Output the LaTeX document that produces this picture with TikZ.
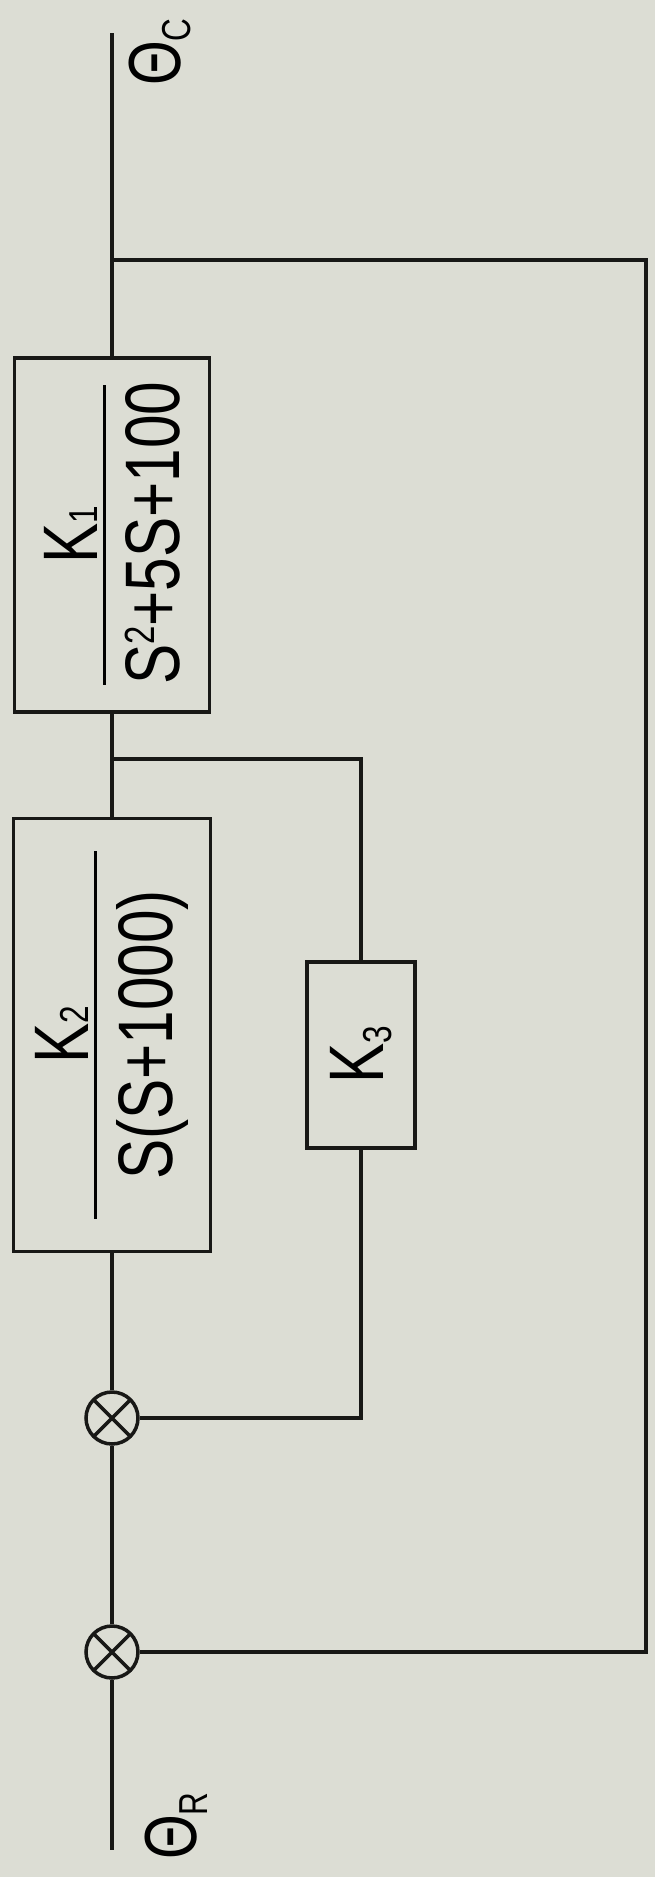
\documentclass[tikz,border=0pt]{standalone}
\usepackage{fontspec}
\setmainfont{Liberation Sans}[FakeStretch=0.78]
\usetikzlibrary{positioning,calc}
\definecolor{paper}{RGB}{220,221,212}
\definecolor{ink}{RGB}{24,24,22}
% small lowered index, as in the hand lettering
\newcommand\lo[2][0pt]{\raisebox{#1}{\fontsize{23}{23}\selectfont #2}}
% transfer function: numerator over a bar over denominator
\newcommand\tf[3]{\vbox{\hbox to #3{\hfil #1\hfil}\kern3pt
  \hrule height 1.8pt\kern11pt\hbox to #3{\hfil #2\hfil}}}

\begin{document}
\begin{tikzpicture}[x=0.02cm,y=-0.02cm,line width=2pt,draw=ink,
  blockbox/.style={draw,rotate=90,inner sep=0pt,line width=2.1pt,
    font=\fontsize{44}{48}\selectfont},
  sumjn/.style={draw,circle,minimum size=1.04cm,inner sep=0pt,line width=2pt,
    path picture={\draw[line width=2pt]
      (path picture bounding box.north west) -- (path picture bounding box.south east)
      (path picture bounding box.north east) -- (path picture bounding box.south west);}},
  sig/.style={rotate=90,inner sep=0pt,font=\fontsize{42}{44}\selectfont}]
\fill[paper] (0,0) rectangle (655,1877);
\useasboundingbox (0,0) rectangle (655,1877);

% forward path
\coordinate (top) at (112,33);
\coordinate (tapC) at (112,260);
\node[blockbox,minimum width=7.08cm,minimum height=3.9cm] (k1) at (112,535)
  {\tf{K\lo{1}}{S\raisebox{14pt}{\fontsize{24}{24}\selectfont 2}+5S+100}{6cm}};
\coordinate (tap3) at (112,759);
\node[blockbox,minimum width=8.66cm,minimum height=3.94cm] (k2) at (112,1035)
  {\tf{K\lo{2}}{S(S+1000)}{7.36cm}};
\node[blockbox,minimum width=3.72cm,minimum height=2.16cm] (k3) at (361,1055)
  {K\lo[-5pt]{3}};
\node[sumjn] (sum2) at (112,1418) {};
\node[sumjn] (sum1) at (112,1652) {};
\coordinate (bottom) at (112,1850);
\coordinate (fbC) at (646,260);

% signal names
\node[sig] (thetaC) at (160,52) {Θ\lo[-6pt]{C}};
\node[sig] (thetaR) at (176,1826) {Θ\lo[-6pt]{R}};

% lines
\draw (top) -- (k1);
\draw (k1) -- (k2);
\draw (k2) -- (sum2);
\draw (sum2) -- (sum1);
\draw (sum1) -- (bottom);
\draw (tap3) -| (k3);
\draw (k3) |- (sum2);
\draw (tapC) -- (fbC) |- (sum1);
\end{tikzpicture}
\end{document}
